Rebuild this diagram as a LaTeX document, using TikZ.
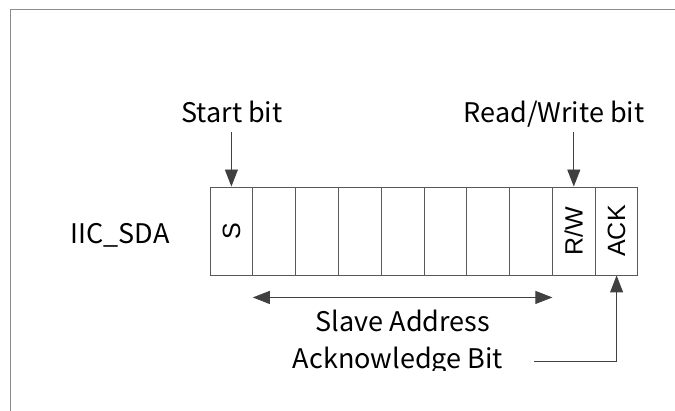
\documentclass[tikz,border=0pt]{standalone}
\usepackage{fontspec}
\setmainfont{Noto Sans CJK SC}
\newfontfamily\cellfont{Liberation Sans}
\usetikzlibrary{positioning, shapes.multipart, arrows.meta, calc}
\colorlet{myline}{black!65}
\colorlet{myframe}{black!45}
\colorlet{myarrow}{black!75}

\begin{document}
\begin{tikzpicture}[x=1pt, y=-1pt,
    lbl/.style = {font=\fontsize{27}{32}\selectfont, inner sep=0pt},
    ptr/.style = {draw=myarrow, line width=0.9pt,
      -{Triangle[width=13pt, length=17pt]}},
    sdaframe/.style = {rectangle split, rectangle split horizontal,
      rectangle split parts=10, draw=myline, line width=0.9pt,
      text width=41.9pt, inner sep=0pt, align=center, minimum height=88pt,
      font=\cellfont\fontsize{25}{28}\selectfont},
  ]
\useasboundingbox (0,0) rectangle (675,411);
\draw[myframe, line width=1pt] (10,411) -- (10,10) -- (675,10);

\node[sdaframe, anchor=west] (C) at (210,231)
    {\nodepart{one}     \rotatebox{90}{S}
     \nodepart{two}
     \nodepart{three}
     \nodepart{four}
     \nodepart{five}
     \nodepart{six}
     \nodepart{seven}
     \nodepart{eight}
     \nodepart{nine}    \rotatebox{90}{R/W}
     \nodepart{ten}     \rotatebox{90}{ACK}
    };

\node[lbl] (sda) at (120,235) {IIC\_SDA};
\node[lbl, anchor=base] (start) at (232,123) {Start bit};
\node[lbl, anchor=base] (rw) at (554,123) {Read/Write bit};
\node[lbl, anchor=base] (addr) at (403,332) {Slave Address};
\begin{scope}
  \clip (0,0) rectangle (675,371);
  \node[lbl, anchor=base] (ack) at (398,369) {Acknowledge Bit};
\end{scope}

\coordinate (stop) at ($(C.north west)!.5!(C.one split north)$);
\coordinate (rwtop) at ($(C.eight split north)!.5!(C.nine split north)$);
\coordinate (acktip) at ($(C.nine split south)!.5!(C.south east)$);

\draw[ptr] ($(start.base -| stop)+(0,9)$) -- (stop);
\draw[ptr] ($(rw.base -| rwtop)+(0,9)$) -- (rwtop);
\draw[ptr, {Triangle[width=13pt, length=17pt]}-{Triangle[width=13pt, length=17pt]}]
  ($(C.one split south)+(0,22)$) -- ($(C.eight split south)+(0,22)$);
\draw[ptr] ($(ack.east)+(31,0)$) -| (acktip);
\end{tikzpicture}
\end{document}
